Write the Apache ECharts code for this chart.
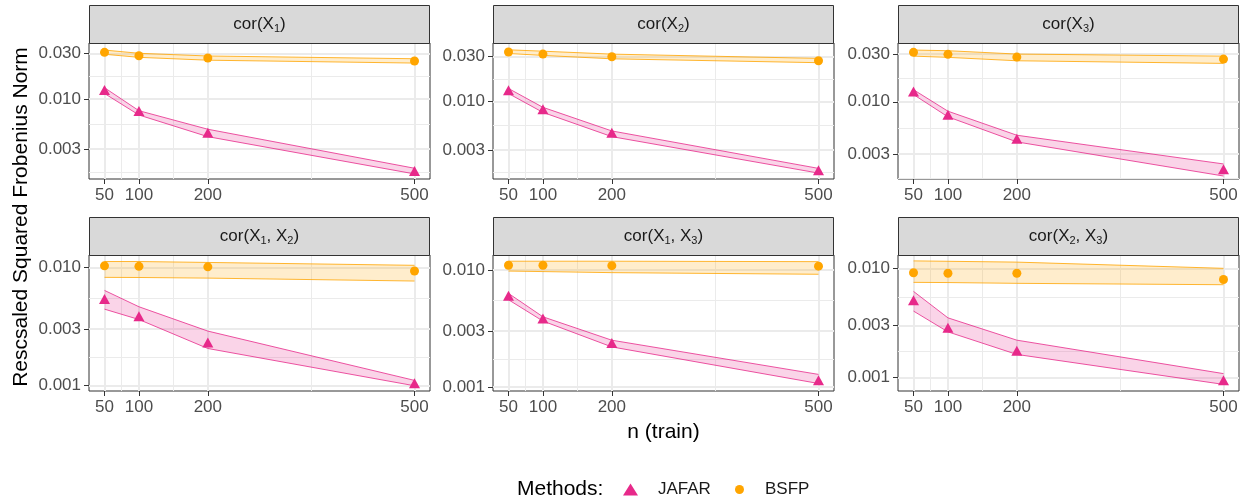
<!DOCTYPE html>
<html>
<head>
<meta charset="utf-8">
<script src="https://cdn.jsdelivr.net/npm/echarts@6/dist/echarts.min.js"></script>
<style>
  html, body { margin: 0; padding: 0; background: #ffffff; }
  #chart { width: 1246px; height: 501px; }
</style>
</head>
<body>
<div id="chart"></div>
<script>
// Training sizes on the x axis
const nTrain = [50, 100, 200, 500];
const xBreaks = [50, 100, 200, 500];
const yBreaks = [0.001, 0.003, 0.01, 0.03];

// Facet panels: cor(X_i) or cor(X_i, X_j)
const panelVars = [[1], [2], [3], [1, 2], [1, 3], [2, 3]];

// Visible y range of each panel (free scales)
const yRange = [
  [0.00146, 0.0384], [0.00147, 0.0421], [0.00169, 0.0387],
  [0.000894, 0.01272], [0.000923, 0.01345], [0.000748, 0.01325]
];

// JAFAR: point estimate and band per panel
const jafarMean = [
  [0.0124, 0.00748, 0.00444, 0.00177],
  [0.0131, 0.00820, 0.00459, 0.00182],
  [0.0127, 0.00742, 0.00426, 0.00212],
  [0.00538, 0.00384, 0.00231, 0.00104],
  [0.00603, 0.00385, 0.00238, 0.00114],
  [0.00508, 0.00284, 0.00175, 0.00094]
];
const jafarLow = [
  [0.0114, 0.0068, 0.00404, 0.00165],
  [0.0121, 0.0076, 0.00418, 0.00170],
  [0.0118, 0.00707, 0.00397, 0.00181],
  [0.00442, 0.00361, 0.00205, 0.00099],
  [0.00557, 0.00366, 0.00220, 0.00107],
  [0.00405, 0.00261, 0.00162, 0.00086]
];
const jafarHigh = [
  [0.0131, 0.00754, 0.00483, 0.00189],
  [0.0137, 0.00861, 0.00481, 0.00191],
  [0.0132, 0.00805, 0.00463, 0.00239],
  [0.00637, 0.00463, 0.00288, 0.00110],
  [0.00631, 0.00398, 0.00251, 0.00128],
  [0.00614, 0.00351, 0.00219, 0.00108]
];

// BSFP: point estimate and band per panel
const bsfpMean = [
  [0.0307, 0.0283, 0.0268, 0.0249],
  [0.0337, 0.0320, 0.0300, 0.0272],
  [0.0312, 0.0298, 0.0280, 0.0267],
  [0.0103, 0.0102, 0.0101, 0.0093],
  [0.0110, 0.0110, 0.0109, 0.0108],
  [0.0091, 0.0090, 0.0090, 0.0079]
];
const bsfpLow = [
  [0.0293, 0.0272, 0.0254, 0.0237],
  [0.0325, 0.0310, 0.0285, 0.0259],
  [0.0286, 0.0278, 0.0257, 0.0242],
  [0.00822, 0.0082, 0.0081, 0.00765],
  [0.0098, 0.0097, 0.0095, 0.0092],
  [0.00743, 0.0074, 0.00728, 0.00707]
];
const bsfpHigh = [
  [0.0324, 0.0300, 0.0281, 0.0263],
  [0.0356, 0.0344, 0.0320, 0.0288],
  [0.0329, 0.0324, 0.0300, 0.0286],
  [0.0112, 0.0112, 0.0110, 0.0104],
  [0.0119, 0.0119, 0.0119, 0.0118],
  [0.0117, 0.0116, 0.0114, 0.0100]
];

const JAFAR_COLOR = '#E7298A';
const BSFP_COLOR = '#FFA500';
const FONT = '"Liberation Sans", Arial, Helvetica, sans-serif';

// Panel geometry
const panelLeft = [89, 493, 898];
const panelTop = [43, 255];
const panelW = 341;
const panelH = 136;
const stripH = 38;

const lg = v => Math.log10(v);
// minor breaks sit halfway (in log space) between major breaks
const midLog = arr => arr.slice(1).map((v, k) => (lg(v) + lg(arr[k])) / 2);
const xMinor = xBreaks.slice(1).map((v, k) => (v + xBreaks[k]) / 2);
const yMinorLog = midLog([0.0003].concat(yBreaks, [0.1]));
const xSpan = nTrain[nTrain.length - 1] - nTrain[0];
const xMin = nTrain[0] - 0.05 * xSpan;
const xMax = nTrain[nTrain.length - 1] + 0.05 * xSpan;

const grids = [], xAxes = [], yAxes = [], series = [], graphics = [];

function stripRich(vars) {
  let s = '{n|cor(}';
  vars.forEach((v, k) => {
    s += (k > 0 ? '{n|, X}' : '{n|X}') + '{s|' + v + '}';
  });
  return s + '{n|)}';
}

panelVars.forEach((vars, i) => {
  const col = i % 3, row = Math.floor(i / 3);
  const left = panelLeft[col], top = panelTop[row];
  grids.push({
    left: left, top: top, width: panelW, height: panelH,
    show: true, backgroundColor: '#ffffff', borderColor: '#333333', borderWidth: 1
  });
  const yMin = lg(yRange[i][0]), yMax = lg(yRange[i][1]);
  // major x axis (labels, ticks, major grid)
  xAxes.push({
    type: 'value', gridIndex: i, min: xMin, max: xMax,
    axisLine: { show: false },
    axisTick: { show: true, customValues: xBreaks, length: 5, lineStyle: { color: '#333333', width: 1 } },
    axisLabel: { customValues: xBreaks, color: '#4D4D4D', fontSize: 17, margin: 8, fontFamily: FONT },
    splitLine: { show: true, lineStyle: { color: '#EBEBEB', width: 2 } }
  });
  // minor x grid
  xAxes.push({
    type: 'value', gridIndex: i, min: xMin, max: xMax,
    axisLine: { show: false },
    axisTick: { show: false, customValues: xMinor },
    axisLabel: { show: false, customValues: xMinor },
    splitLine: { show: true, lineStyle: { color: '#EBEBEB', width: 1 } }
  });
  const yMajor = yBreaks.map(lg);
  yAxes.push({
    type: 'value', gridIndex: i, min: yMin, max: yMax,
    axisLine: { show: false },
    axisTick: { show: true, customValues: yMajor, length: 5, lineStyle: { color: '#333333', width: 1 } },
    axisLabel: {
      customValues: yMajor, color: '#4D4D4D', fontSize: 17, margin: 8, fontFamily: FONT,
      formatter: v => Math.pow(10, v).toFixed(3)
    },
    splitLine: { show: true, lineStyle: { color: '#EBEBEB', width: 2 } }
  });
  yAxes.push({
    type: 'value', gridIndex: i, min: yMin, max: yMax,
    axisLine: { show: false },
    axisTick: { show: false, customValues: yMinorLog },
    axisLabel: { show: false, customValues: yMinorLog },
    splitLine: { show: true, lineStyle: { color: '#EBEBEB', width: 1 } }
  });

  const xi = 2 * i, yi = 2 * i;
  // ribbon: filled polygon between the low and high curves, plus both edges
  const band = (name, lo, hi, color, fill) => {
    series.push({
      type: 'custom', name: name + ' band', xAxisIndex: xi, yAxisIndex: yi,
      silent: true, z: 2,
      data: nTrain.map((n, k) => [n, lg(lo[k]), lg(hi[k])]),
      renderItem: (params, api) => {
        if (params.dataIndex !== 0) return null;
        const upper = nTrain.map((n, k) => api.coord([n, lg(hi[k])]));
        const lower = nTrain.map((n, k) => api.coord([n, lg(lo[k])])).reverse();
        return {
          type: 'polygon',
          shape: { points: upper.concat(lower) },
          style: { fill: fill, stroke: null }
        };
      }
    });
    [lo, hi].forEach(edge => {
      series.push({
        type: 'line', name: name + ' band', xAxisIndex: xi, yAxisIndex: yi,
        symbol: 'none', silent: true, z: 3,
        data: nTrain.map((n, k) => [n, lg(edge[k])]),
        lineStyle: { color: color, width: 0.8 }
      });
    });
  };
  band('BSFP', bsfpLow[i], bsfpHigh[i], BSFP_COLOR, 'rgba(255,165,0,0.2)');
  band('JAFAR', jafarLow[i], jafarHigh[i], JAFAR_COLOR, 'rgba(231,41,138,0.2)');

  series.push({
    type: 'scatter', name: 'JAFAR', xAxisIndex: xi, yAxisIndex: yi, z: 5,
    symbol: 'triangle', symbolSize: [11, 10],
    itemStyle: { color: JAFAR_COLOR, opacity: 1 },
    data: nTrain.map((n, k) => [n, lg(jafarMean[i][k])])
  });
  series.push({
    type: 'scatter', name: 'BSFP', xAxisIndex: xi, yAxisIndex: yi, z: 5,
    symbol: 'circle', symbolSize: 9,
    itemStyle: { color: BSFP_COLOR, opacity: 1 },
    data: nTrain.map((n, k) => [n, lg(bsfpMean[i][k])])
  });

  // facet strip
  graphics.push({
    type: 'rect', z: 10,
    shape: { x: left + 0.5, y: top - stripH + 0.5, width: panelW - 1, height: stripH },
    style: { fill: '#D9D9D9', stroke: '#333333', lineWidth: 1 }
  });
  graphics.push({
    type: 'text', z: 11,
    x: left + panelW / 2, y: top - stripH / 2,
    style: {
      text: stripRich(vars), align: 'center', verticalAlign: 'middle',
      rich: {
        n: { fontSize: 17, fontFamily: FONT, fill: '#1A1A1A', lineHeight: 20, verticalAlign: 'middle' },
        s: { fontSize: 11, fontFamily: FONT, fill: '#1A1A1A', lineHeight: 10, verticalAlign: 'bottom' }
      }
    }
  });
});

// axis titles
graphics.push({
  type: 'text', x: 663.5, y: 432,
  style: { text: 'n (train)', fontSize: 21, fontFamily: FONT, fill: '#000000', align: 'center', verticalAlign: 'middle' }
});
graphics.push({
  type: 'text', x: 21, y: 217, rotation: Math.PI / 2,
  style: { text: 'Rescsaled Squared Frobenius Norm', fontSize: 21, fontFamily: FONT, fill: '#000000', align: 'center', verticalAlign: 'middle' }
});

const option = {
  animation: false,
  backgroundColor: '#ffffff',
  textStyle: { fontFamily: FONT },
  title: {
    text: 'Methods:', left: 517, top: 479, padding: 0,
    textStyle: { fontSize: 21, fontWeight: 'normal', color: '#000000', fontFamily: FONT }
  },
  legend: [
    {
      data: [{ name: 'JAFAR', icon: 'triangle' }], left: 623, top: 481,
      itemWidth: 15, itemHeight: 12, selectedMode: false, padding: 0,
      textStyle: { fontSize: 17, color: '#1A1A1A', fontFamily: FONT, padding: [0, 0, 0, 15] }
    },
    {
      data: [{ name: 'BSFP', icon: 'circle' }], left: 735, top: 481,
      itemWidth: 9, itemHeight: 9, selectedMode: false, padding: 0,
      textStyle: { fontSize: 17, color: '#1A1A1A', fontFamily: FONT, padding: [0, 0, 0, 16] }
    }
  ],
  grid: grids,
  xAxis: xAxes,
  yAxis: yAxes,
  series: series,
  graphic: graphics
};

const chart = echarts.init(document.getElementById('chart'), null, { renderer: 'canvas' });
chart.setOption(option);
</script>
</body>
</html>
